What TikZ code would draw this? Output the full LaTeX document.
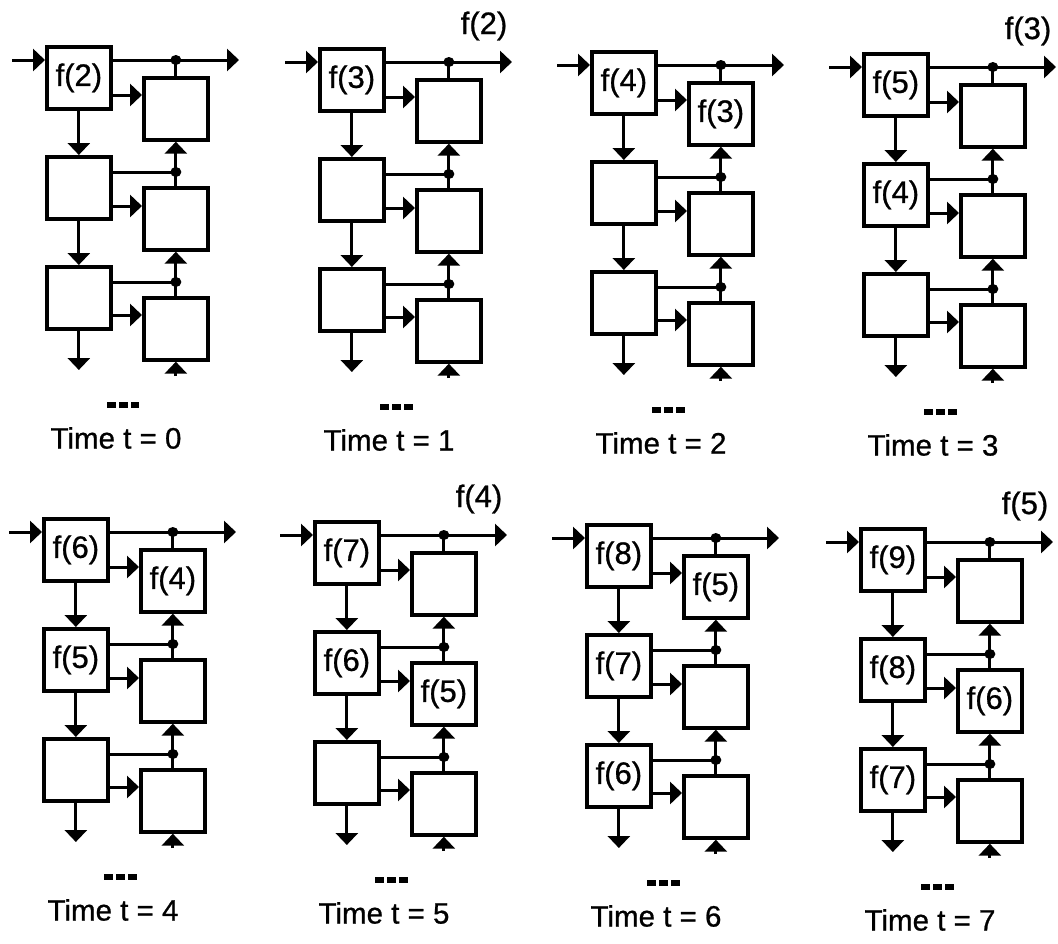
\documentclass[tikz,border=0pt]{standalone}
\usepackage{fontspec}
\setmainfont{Liberation Sans}
\newfontfamily\labfont[FakeBold=0.8]{Liberation Sans}
\usetikzlibrary{arrows.meta}
\tikzset{
  cell/.style={draw, line width=3.7pt, minimum width=64pt, minimum height=62pt,
    inner sep=0pt, anchor=north west, font=\labfont\fontsize{31}{31}\selectfont},
  conn/.style={line width=3pt},
  arr/.style={-{Triangle[length=12pt,width=22pt]}},
  dots/.style={inner sep=0pt},
  timelab/.style={inner sep=0pt, font=\labfont\fontsize{29.5}{29.5}\selectfont},
  outlab/.style={inner sep=0pt, font=\labfont\fontsize{31}{31}\selectfont},
}
\newcommand\jdot[1]{\fill (#1) ellipse [x radius=5.5pt, y radius=5pt];}
\newcommand\mypanel[9]{%
\begin{scope}[shift={(#2,#3)}]
  \node[cell] (p#1L1) at (0,0) {#4};
  \node[cell] (p#1L2) at (0,110) {#5};
  \node[cell] (p#1L3) at (0,220) {#6};
  \node[cell] (p#1R1) at (97,31) {#7};
  \node[cell] (p#1R2) at (97,141) {#8};
  \node[cell] (p#1R3) at (97,251) {#9};
  \coordinate (p#1in) at (-33,15);
  \coordinate (p#1out) at (194,15);
  \coordinate (p#1h1) at (0,50);
  \coordinate (p#1h2) at (0,161);
  \coordinate (p#1h3) at (0,270);
  \coordinate (p#1k2) at (0,127);
  \coordinate (p#1k3) at (0,237);
  \coordinate (p#1b1) at (0,325);
  \coordinate (p#1b2) at (0,331);
  \coordinate (p#1j0) at (p#1R1.north |- p#1out);
  \coordinate (p#1j1) at (p#1R1.south |- p#1k2);
  \coordinate (p#1j2) at (p#1R2.south |- p#1k3);
  % input and output
  \draw[conn,arr] (p#1in) -- (p#1in -| p#1L1.west);
  \draw[conn,arr] (p#1out -| p#1L1.east) -- (p#1out);
  \draw[conn] (p#1j0) -- (p#1R1.north);
  % left to right arrows
  \draw[conn,arr] (p#1h1 -| p#1L1.east) -- (p#1h1 -| p#1R1.west);
  \draw[conn,arr] (p#1h2 -| p#1L2.east) -- (p#1h2 -| p#1R2.west);
  \draw[conn,arr] (p#1h3 -| p#1L3.east) -- (p#1h3 -| p#1R3.west);
  % junction lines
  \draw[conn] (p#1k2 -| p#1L2.east) -- (p#1j1);
  \draw[conn] (p#1k3 -| p#1L3.east) -- (p#1j2);
  % vertical
  \draw[conn,arr] (p#1L1.south) -- (p#1L2.north);
  \draw[conn,arr] (p#1L2.south) -- (p#1L3.north);
  \draw[conn,arr] (p#1R2.north) -- (p#1R1.south);
  \draw[conn,arr] (p#1R3.north) -- (p#1R2.south);
  \draw[conn,arr] (p#1L3.south) -- (p#1L3.south |- p#1b1);
  \draw[conn,arr] (p#1R3.south |- p#1b2) -- (p#1R3.south);
  \jdot{p#1j0}\jdot{p#1j1}\jdot{p#1j2}
  \node[dots] (p#1dots) at (78,360) {\rule{9pt}{6pt}\hspace{3pt}\rule{9pt}{6pt}\hspace{3pt}\rule{9pt}{6pt}};
  \node[timelab] (p#1time) at (71,393) {Time t = #1};
\end{scope}}
\begin{document}
\begin{tikzpicture}[x=1pt,y=-1pt]
\useasboundingbox[fill=white] (0,0) rectangle (1058,943);
\mypanel{0}{45}{45}{f(2)}{}{}{}{}{}
\mypanel{1}{318}{47}{f(3)}{}{}{}{}{}
\mypanel{2}{590}{50}{f(4)}{}{}{f(3)}{}{}
\mypanel{3}{862}{52}{f(5)}{f(4)}{}{}{}{}
\mypanel{4}{42}{517}{f(6)}{f(5)}{}{f(4)}{}{}
\mypanel{5}{313}{520}{f(7)}{f(6)}{}{}{f(5)}{}
\mypanel{6}{585}{523}{f(8)}{f(7)}{f(6)}{f(5)}{}{}
\mypanel{7}{859}{527}{f(9)}{f(8)}{f(7)}{}{f(6)}{}
\node[outlab] (o1) at ([shift={(-28pt,36pt)}]p1out) {f(2)};
\node[outlab] (o3) at ([shift={(-28pt,36pt)}]p3out) {f(3)};
\node[outlab] (o5) at ([shift={(-28pt,36pt)}]p5out) {f(4)};
\node[outlab] (o7) at ([shift={(-28pt,36pt)}]p7out) {f(5)};
\end{tikzpicture}
\end{document}
